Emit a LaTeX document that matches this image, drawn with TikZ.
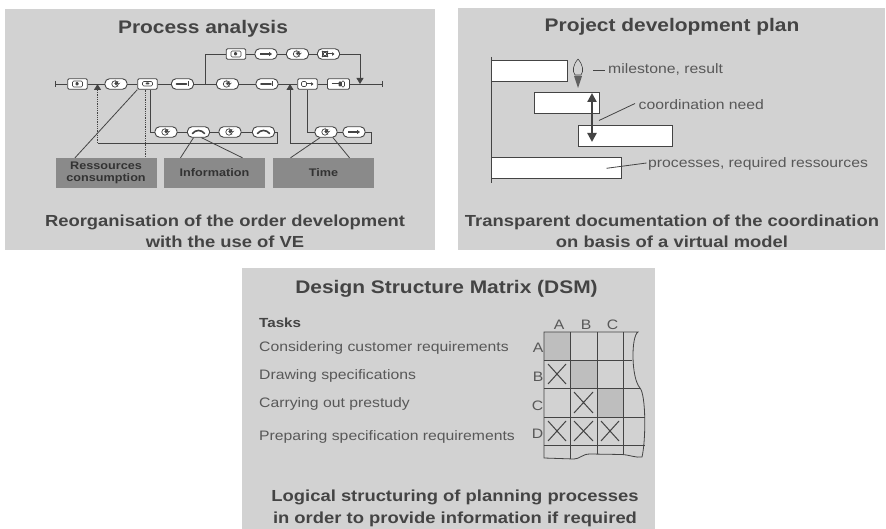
\documentclass[tikz,border=0pt]{standalone}
\usepackage{fontspec}
\setmainfont[FakeStretch=1.15]{Liberation Sans}
\usepackage{tikz}
\usetikzlibrary{arrows.meta}
\definecolor{panelgray}{RGB}{210,210,210}
\definecolor{tagfill}{RGB}{138,138,138}
\definecolor{ink}{RGB}{68,68,68}
\definecolor{softink}{RGB}{88,88,88}
\definecolor{diagcell}{RGB}{190,190,190}
\tikzset{
  panel/.style={fill=panelgray},
  heading/.style={text=ink, font=\bfseries\fontsize{18.2}{22}\selectfont, inner sep=0pt},
  caption/.style={text=ink, font=\bfseries\fontsize{16}{21.5}\selectfont, align=center, inner sep=0pt},
  body/.style={text=softink, font=\fontsize{13.7}{16}\selectfont, inner sep=0pt},
  flow/.style={draw=ink, line width=0.8pt},
  flowtip/.style={-{Triangle[length=6pt,width=7pt]}},
  proc/.style={draw=ink, fill=white, line width=0.9pt, minimum height=10.5pt, inner sep=0pt},
  pill/.style={proc, rounded corners=4.5pt, minimum width=22pt},
  box/.style={proc, rounded corners=1.2pt, minimum width=19.5pt},
  tag/.style={fill=tagfill, minimum width=101pt, minimum height=30pt, inner sep=0pt, align=center,
    text=black!80, font=\bfseries\fontsize{11}{12}\selectfont},
  bar/.style={draw=ink, fill=white, line width=0.9pt, minimum height=21.5pt, inner sep=0pt, anchor=north west},
  crossline/.style={draw=ink, line width=1pt},
  clockic/.style={path picture={
    \coordinate (pc) at ([xshift=-1pt]path picture bounding box.center);
    \draw[ink, line width=0.7pt] (pc) circle (3.2pt);
    \fill[ink] (pc) -- ([yshift=3.2pt]pc) arc (90:-40:3.2pt) -- cycle;}},
  arrowic/.style={path picture={
    \coordinate (pc) at (path picture bounding box.center);
    \draw[ink, line width=1.3pt, -{Triangle[length=3pt,width=4pt]}] ([xshift=-6pt]pc) -- ([xshift=6pt]pc);}},
  toolic/.style={path picture={
    \coordinate (pc) at (path picture bounding box.center);
    \draw[ink, line width=1.6pt, line cap=round] ([xshift=-6pt]pc) -- ([xshift=4pt]pc);
    \draw[ink, line width=0.8pt] ([xshift=5.5pt,yshift=-2.5pt]pc) -- ([xshift=5.5pt,yshift=2.5pt]pc);}},
  phoneic/.style={path picture={
    \coordinate (pc) at (path picture bounding box.center);
    \draw[ink, line width=1.6pt, line cap=round] ([xshift=-6pt,yshift=-1.5pt]pc)
      .. controls ([xshift=-3pt,yshift=2.5pt]pc) and ([xshift=3pt,yshift=2.5pt]pc) .. ([xshift=6pt,yshift=-1.5pt]pc);}},
  docic/.style={path picture={
    \coordinate (pc) at (path picture bounding box.center);
    \draw[ink, line width=0.6pt] ([xshift=-5pt,yshift=-3pt]pc) rectangle ([xshift=5pt,yshift=3pt]pc);
    \fill[ink] ([xshift=-2pt,yshift=-1.5pt]pc) rectangle ([xshift=1pt,yshift=2pt]pc);}},
  sendic/.style={path picture={
    \coordinate (pc) at (path picture bounding box.center);
    \draw[ink, line width=0.6pt] ([xshift=-6pt,yshift=-2.5pt]pc) rectangle ([xshift=-1pt,yshift=2.5pt]pc);
    \draw[ink, line width=1pt, -{Triangle[length=2.5pt,width=3.5pt]}] ([xshift=-1pt]pc) -- ([xshift=6pt]pc);}},
  storeic/.style={path picture={
    \coordinate (pc) at (path picture bounding box.center);
    \draw[ink, line width=1pt] ([xshift=-7pt]pc) -- (pc);
    \fill[ink] ([yshift=-2.5pt]pc) rectangle ([xshift=3pt,yshift=2.5pt]pc);
    \draw[ink, line width=0.6pt] ([xshift=3pt,yshift=-3pt]pc) rectangle ([xshift=6pt,yshift=3pt]pc);}},
  slotic/.style={path picture={
    \coordinate (pc) at (path picture bounding box.center);
    \draw[ink, line width=0.6pt] ([xshift=-5pt,yshift=-2pt]pc) rectangle ([xshift=5pt,yshift=2.5pt]pc);
    \fill[ink] ([xshift=-2pt,yshift=-0.5pt]pc) rectangle ([xshift=2pt,yshift=1.5pt]pc);}}
}

\begin{document}
\begin{tikzpicture}[x=1pt, y=-1pt]
  \fill[white] (0,0) rectangle (886,529);
  \useasboundingbox (0,0) rectangle (886,529);

  % Process analysis
  \fill[panel] (5,9) rectangle (435,250.5);
  \node[heading, anchor=base] (pa) at (203,33.3) {Process analysis};
  \coordinate (s0) at (55,84);
  \coordinate (j1) at (97.5,84);
  \coordinate (br) at (205,84);
  \coordinate (j2) at (290,84);
  \coordinate (j3) at (360,84);
  \coordinate (s9) at (382,84);
  \node[box, docic] (d1) at (77.5,84) {};
  \node[pill, clockic] (m1) at (116,84) {};
  \node[box, slotic] (m2) at (147.5,84) {};
  \node[pill, toolic] (m3) at (182.5,84) {};
  \node[pill, clockic] (m4) at (227.5,84) {};
  \node[pill, toolic] (m5) at (267,84) {};
  \node[box, sendic] (m6) at (307.5,84) {};
  \node[box, storeic, minimum width=22pt] (m7) at (338.5,84) {};
  \draw[flow] (s0) -- (d1) -- (m1) -- (m2) -- (m3) -- (m4) -- (m5) -- (m6) -- (m7) -- (s9);
  \draw[flow] ([yshift=3pt]s0) -- ([yshift=-3pt]s0);
  \draw[flow] ([yshift=3pt]s9) -- ([yshift=-3pt]s9);
  % parallel branch on top
  \node[box, docic] (t1) at (236,54) {};
  \node[pill, arrowic] (t2) at (266,54) {};
  \node[pill, clockic] (t3) at (297.5,54) {};
  \node[pill, sendic] (t4) at (328.5,54) {};
  \draw[flow] (br) |- (t1) -- (t2) -- (t3) -- (t4);
  \draw[flow, flowtip] (t4) -| (j3);
  % information loop
  \node[pill, clockic] (b1) at (166,132) {};
  \node[pill, phoneic] (b2) at (198.5,132) {};
  \node[pill, clockic] (b3) at (230,132) {};
  \node[pill, phoneic] (b4) at (263.5,132) {};
  \coordinate (lp1) at (277,143);
  \coordinate (lp2) at (97.5,143);
  \draw[flow] ([xshift=3pt]m2.south) |- (b1) -- (b2) -- (b3) -- (b4);
  \draw[flow] (b4) -| (lp1) -- (lp2);
  \draw[flow, densely dotted, flowtip] (lp2) -- (j1);
  % time loop
  \node[pill, clockic] (r1) at (326,132) {};
  \node[pill, arrowic] (r2) at (354,132) {};
  \coordinate (rp1) at (371,143);
  \coordinate (rp2) at (290,143);
  \draw[flow] (m6) |- (r1) -- (r2);
  \draw[flow] (r2) -| (rp1) -- (rp2);
  \draw[flow, flowtip] (rp2) -- (j2);
  % categories
  \node[tag] (lr) at (106,173) {Ressources\\consumption};
  \node[tag] (li) at (214.5,173) {Information};
  \node[tag] (lt) at (323.5,173) {Time};
  \coordinate (m2d) at ([xshift=-2pt]m2.south);
  \draw[flow] ([xshift=-31pt]lr.north) -- (m2.south west);
  \draw[flow, densely dotted] (m2d) -- (m2d |- lr.north);
  \draw[flow] ([xshift=-34pt]li.north) -- ([xshift=-5pt]b2.south);
  \draw[flow] ([xshift=3pt]b2.south) -- ([xshift=28pt]li.north);
  \draw[flow] ([xshift=-33pt]lt.north) -- ([xshift=-6pt]r1.south);
  \draw[flow] ([xshift=7pt]r1.south) -- ([xshift=26pt]lt.north);
  \node[caption, anchor=north] (pac) at (225,214.3)
    {Reorganisation of the order development\\with the use of VE};

  % Project development plan
  \fill[panel] (458,8.5) rectangle (885,250.5);
  \node[heading, anchor=base] (pd) at (672,31.7) {Project development plan};
  \draw[flow] (491,57) -- (491,183);
  \node[bar, minimum width=76pt] (g1) at (491,60) {};
  \node[bar, minimum width=65pt] (g2) at (534,92) {};
  \node[bar, minimum width=94pt] (g3) at (578,125) {};
  \node[bar, minimum width=130pt] (g4) at (491,157) {};
  % milestone
  \draw[ink, line width=0.6pt] (578,59) .. controls (583,65) and (584,71) .. (581,75)
    -- (575,75) .. controls (572,71) and (573,65) .. (578,59);
  \fill[ink!85] (574,76) -- (582,76) -- (578,88) -- cycle;
  \node[body, anchor=base west] (msl) at (608,73.5) {milestone, result};
  \draw[flow] ([xshift=-15pt,yshift=3.5pt]msl.base west) -- ([xshift=-3pt,yshift=3.5pt]msl.base west);
  % coordination need
  \coordinate (cn1) at (592,93);
  \coordinate (cn2) at (592,142);
  \draw[ink, line width=2.6pt, {Triangle[length=9pt,width=9pt]}-{Triangle[length=9pt,width=9pt]}] (cn1) -- (cn2);
  \node[body, anchor=base west] (cnl) at (638.5,110) {coordination need};
  \coordinate (cn3) at (599,120.5);
  \draw[flow] (cn3) -- ([xshift=-3.5pt,yshift=6.5pt]cnl.base west);
  % resources
  \node[body, anchor=base west] (prl) at (648,168) {processes, required ressources};
  \coordinate (pr1) at (606.5,168.3);
  \draw[flow] (pr1) -- ([xshift=-1.5pt,yshift=5pt]prl.base west);
  \node[caption, anchor=north] (pdc) at (672,214.3)
    {Transparent documentation of the coordination\\on basis of a virtual model};

  % Design Structure Matrix
  \fill[panel] (242,267.7) rectangle (655,529);
  \node[heading, anchor=base] (dsm) at (446.5,293.3) {Design Structure Matrix (DSM)};
  \node[body, font=\bfseries\fontsize{13.2}{16}\selectfont, text=ink, anchor=base west] (tk) at (259,327.5) {Tasks};
  \node[body, anchor=base west] (ta) at (259,351.5) {Considering customer requirements};
  \node[body, anchor=base west] (tb) at (259,379) {Drawing specifications};
  \node[body, anchor=base west] (tc) at (259,407.5) {Carrying out prestudy};
  \node[body, anchor=base west] (td) at (259,440.5) {Preparing specification requirements};
  % diagonal cells
  \fill[diagcell] (544,332) rectangle (570,360);
  \fill[diagcell] (570,360) rectangle (597,388);
  \fill[diagcell] (597,388) rectangle (623,417);
  % grid with torn edges
  \draw[flow] (544,332) -- (638,332) .. controls (631,336) and (631,378) .. (640,388)
    .. controls (646,395) and (646,440) .. (642,457)
    .. controls (636,458) and (630,455) .. (622,454.5) -- (590,454)
    .. controls (582,454) and (580,459) .. (574,459) -- (544,458) -- cycle;
  \draw[flow] (570,332) -- (570,459);
  \draw[flow] (597,332) -- (597,454);
  \draw[flow] (623,332) -- (623,454.5);
  \draw[flow] (544,360) -- (632,360);
  \draw[flow] (544,388) -- (640,388);
  \draw[flow] (544,417) -- (645.3,417);
  \draw[flow] (544,445) -- (644.5,445);
  % dependencies
  \draw[crossline] (548,364) -- (566,384) (548,384) -- (566,364);
  \draw[crossline] (574,392) -- (593,413) (574,413) -- (593,392);
  \draw[crossline] (548,421) -- (566,441) (548,441) -- (566,421);
  \draw[crossline] (574,421) -- (593,441) (574,441) -- (593,421);
  \draw[crossline] (601,421) -- (619,441) (601,441) -- (619,421);
  \node[body, anchor=base] (ca) at (559,330) {A};
  \node[body, anchor=base] (cb) at (586,330) {B};
  \node[body, anchor=base] (cc) at (612.5,330) {C};
  \node[body, anchor=base east] (ra) at (543.5,352.5) {A};
  \node[body, anchor=base east] (rb) at (543.5,381.5) {B};
  \node[body, anchor=base east] (rc) at (543.5,410) {C};
  \node[body, anchor=base east] (rd) at (543.5,438.5) {D};
  \node[caption, anchor=north] (dsc) at (455,490)
    {Logical structuring of planning processes\\in order to provide information if required};
\end{tikzpicture}
\end{document}
